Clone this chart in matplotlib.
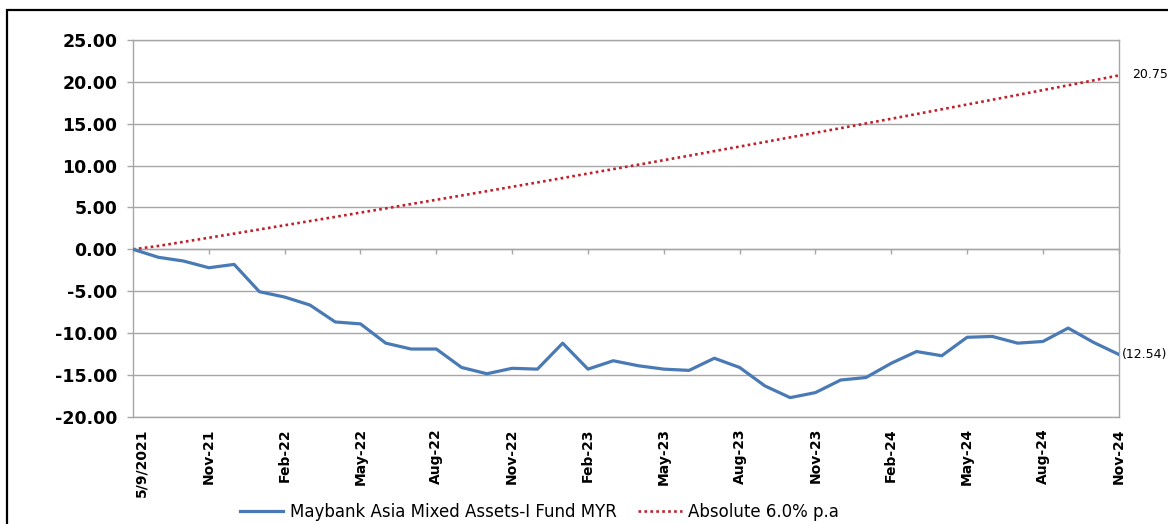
"""
Maybank Asia Mixed Assets-I Fund MYR vs Absolute 6.0% p.a target (cumulative %).
"""

import matplotlib

matplotlib.use("Agg")
import matplotlib.pyplot as plt
import matplotlib.patches as mpatches
import matplotlib.transforms as mtransforms

# monthly points, 5/9/2021 .. Nov-24
fund_name = "Maybank Asia Mixed Assets-I Fund MYR"
target_name = "Absolute 6.0% p.a"

fund_vals = [
    0.00, -0.95, -1.40, -2.20, -1.80, -5.06, -5.70, -6.65, -8.67, -8.90,
    -11.20, -11.90, -11.90, -14.10, -14.85, -14.20, -14.30, -11.20, -14.30, -13.30,
    -13.90, -14.30, -14.45, -13.00, -14.10, -16.30, -17.70, -17.10, -15.60, -15.30,
    -13.60, -12.20, -12.70, -10.50, -10.40, -11.20, -11.00, -9.40, -11.10, -12.54,
]
target_vals = [
    0.00, 0.40, 0.89, 1.38, 1.87, 2.37, 2.87, 3.37, 3.87, 4.38,
    4.88, 5.40, 5.91, 6.42, 6.94, 7.46, 7.98, 8.51, 9.04, 9.57,
    10.10, 10.64, 11.17, 11.72, 12.26, 12.81, 13.36, 13.91, 14.46, 15.02,
    15.58, 16.14, 16.71, 17.28, 17.85, 18.42, 19.00, 19.57, 20.16, 20.75,
]
tick_labels = [
    "5/9/2021", "Nov-21", "Feb-22", "May-22", "Aug-22", "Nov-22", "Feb-23",
    "May-23", "Aug-23", "Nov-23", "Feb-24", "May-24", "Aug-24", "Nov-24",
]
y_ticks = [-20, -15, -10, -5, 0, 5, 10, 15, 20, 25]

GRID = "#a6a6a6"
BLUE = "#4a7ab5"
RED = "#c0202c"

x = list(range(len(fund_vals)))
tick_pos = x[::3]

fig = plt.figure(figsize=(11.68, 5.24), dpi=100)
ax = fig.add_axes([0.1139, 0.2044, 0.8439, 0.7196])

ax.plot(x, target_vals, color=RED, linewidth=1.9, linestyle=(0, (1, 1.25)),
        dash_capstyle="butt", label=target_name, zorder=3)
ax.plot(x, fund_vals, color=BLUE, linewidth=2.3, label=fund_name, zorder=4)

ax.set_xlim(0, len(x) - 1)
ax.set_ylim(y_ticks[0], y_ticks[-1])
ax.set_yticks(y_ticks)
ax.set_yticklabels([f"{v:.2f}" for v in y_ticks], fontsize=12.5, fontweight="bold")
ax.set_xticks(tick_pos)
ax.set_xticklabels(tick_labels, rotation=90, fontsize=10, fontweight="bold")
ax.tick_params(axis="x", length=0, pad=8)
ax.tick_params(axis="y", length=4.3, width=1, color=GRID, pad=7)

# first label sits a little right of its tick in the original
first = ax.get_xticklabels()[0]
first.set_transform(first.get_transform()
                    + mtransforms.ScaledTranslation(0.08, 0, fig.dpi_scale_trans))

ax.grid(axis="y", color=GRID, linewidth=1)
ax.set_axisbelow(True)
for side in ["left", "right", "top", "bottom"]:
    ax.spines[side].set_color(GRID)
    ax.spines[side].set_linewidth(1)

# category axis line crosses at zero with its own tick marks
zero_loc = (0 - y_ticks[0]) / (y_ticks[-1] - y_ticks[0])
sec = ax.secondary_xaxis(zero_loc)
sec.set_xticks(tick_pos)
sec.set_xticklabels([])
sec.tick_params(axis="x", direction="out", length=3.8, width=1, color=GRID)
sec.spines["bottom"].set_color(GRID)
sec.spines["bottom"].set_linewidth(1)

# end-of-series labels
ax.annotate(f"{target_vals[-1]:.2f}", xy=(x[-1], target_vals[-1]), xytext=(10, 1),
            textcoords="offset points", ha="left", va="center", fontsize=9,
            annotation_clip=False)
ax.annotate(f"({abs(fund_vals[-1]):.2f})", xy=(x[-1], fund_vals[-1]), xytext=(2, 0),
            textcoords="offset points", ha="left", va="center", fontsize=9,
            annotation_clip=False)

handles, labels = ax.get_legend_handles_labels()
fig.legend(handles[::-1], labels[::-1], loc="center", ncol=2,
           bbox_to_anchor=(0.462, 0.023), frameon=False, fontsize=12,
           handlelength=2.6, handletextpad=0.4, columnspacing=1.3)

# outer chart frame (right and bottom edges fall outside the crop)
fig.patches.append(mpatches.Rectangle((7 / 1168, -0.1), 1.2, 0.1 + (524 - 10) / 524,
                                      transform=fig.transFigure, fill=False,
                                      edgecolor="black", linewidth=1.6))

fig.savefig("out.png", dpi=100)
plt.close(fig)
